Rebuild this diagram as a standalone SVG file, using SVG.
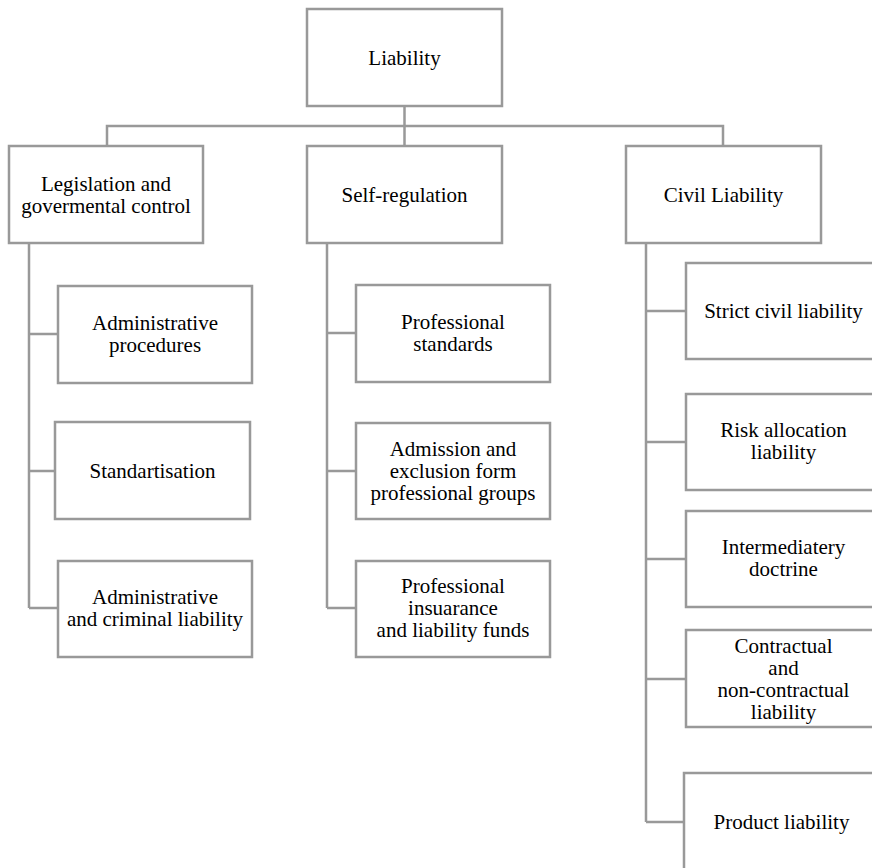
<svg xmlns="http://www.w3.org/2000/svg" width="872" height="868" viewBox="0 0 872 868">
<style>
rect{fill:#fff;stroke:#999;stroke-width:2.5}
text{font-family:'Liberation Serif','Times New Roman',serif;font-size:21px;fill:#000;text-anchor:middle}
.c path{fill:none;stroke:#999;stroke-width:2.5}
</style>
<rect x="0" y="0" width="872" height="868" style="stroke:none"/>
<g class="c" id="connectors">
<path d="M404.5 106V146M107 146V126H723V146"/>
<path d="M29 243V608M29 334H58M29 471H55M29 608H58"/>
<path d="M327 243V608M327 333H356M327 471H356M327 608H356"/>
<path d="M646 243V822M646 311H686M646 442H686M646 559H686M646 679H686M646 822H684"/>
</g>
<g id="liability"><rect x="307" y="9" width="195" height="97"/><text x="404.5" y="65">Liability</text></g>
<g id="legislation"><rect x="9" y="146" width="194" height="97"/><text x="106" y="191">Legislation and</text><text x="106" y="213">govermental control</text></g>
<g id="self-regulation"><rect x="307" y="146" width="195" height="97"/><text x="404.5" y="202">Self-regulation</text></g>
<g id="civil"><rect x="626" y="146" width="195" height="97"/><text x="723.5" y="202">Civil Liability</text></g>
<g id="admin-proc"><rect x="58" y="286" width="194" height="97"/><text x="155" y="330">Administrative</text><text x="155" y="352">procedures</text></g>
<g id="standartisation"><rect x="55" y="422" width="195" height="97"/><text x="152.5" y="478">Standartisation</text></g>
<g id="admin-crim"><rect x="58" y="561" width="194" height="96"/><text x="155" y="604">Administrative</text><text x="155" y="626">and criminal liability</text></g>
<g id="prof-standards"><rect x="356" y="285" width="194" height="97"/><text x="453" y="329">Professional</text><text x="453" y="351">standards</text></g>
<g id="admission"><rect x="356" y="423" width="194" height="96"/><text x="453" y="456">Admission and</text><text x="453" y="478">exclusion form</text><text x="453" y="500">professional groups</text></g>
<g id="insurance"><rect x="356" y="561" width="194" height="96"/><text x="453" y="593">Professional</text><text x="453" y="615">insuarance</text><text x="453" y="637">and liability funds</text></g>
<g id="strict"><rect x="686" y="263" width="195" height="96"/><text x="783.5" y="318">Strict civil liability</text></g>
<g id="risk"><rect x="686" y="394" width="195" height="96"/><text x="783.5" y="437">Risk allocation</text><text x="783.5" y="459">liability</text></g>
<g id="intermediatery"><rect x="686" y="511" width="195" height="96"/><text x="783.5" y="554">Intermediatery</text><text x="783.5" y="576">doctrine</text></g>
<g id="contractual"><rect x="686" y="630" width="195" height="97"/><text x="783.5" y="653">Contractual</text><text x="783.5" y="675">and</text><text x="783.5" y="697">non-contractual</text><text x="783.5" y="719">liability</text></g>
<g id="product"><rect x="684" y="773" width="195" height="97"/><text x="781.5" y="829">Product liability</text></g>
</svg>
